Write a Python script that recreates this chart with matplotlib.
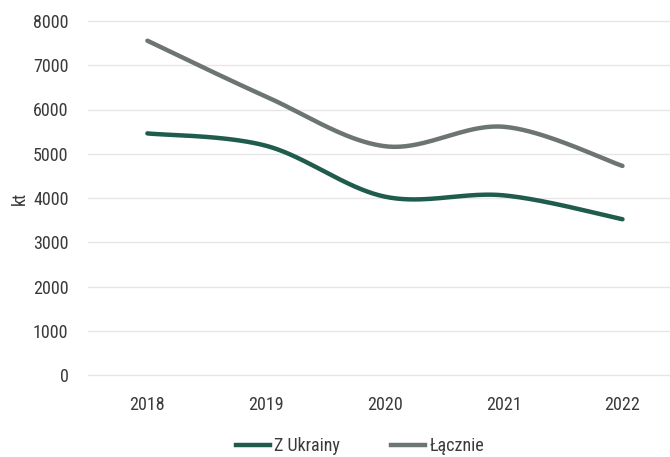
import numpy as np
import matplotlib
matplotlib.use("Agg")
import matplotlib.pyplot as plt
from matplotlib.lines import Line2D
from matplotlib import font_manager

# Prefer a narrow sans for the labels, whichever is available
available = {f.name for f in font_manager.fontManager.ttflist}
stretch = "normal"
family = "Roboto"
for cand in ["Roboto Condensed", "Liberation Sans Narrow", "Open Sans Condensed",
             "Noto Sans Condensed"]:
    if cand in available:
        family = cand
        break
else:
    cond_dejavu = [f for f in font_manager.fontManager.ttflist
                   if f.name == "DejaVu Sans" and f.stretch in ("condensed", 600, "semi-condensed")]
    if cond_dejavu:
        family = "DejaVu Sans"
        stretch = "condensed"
plt.rcParams['font.family'] = [family, 'DejaVu Sans']
plt.rcParams['font.stretch'] = stretch

years = ["2018", "2019", "2020", "2021", "2022"]
z_ukrainy = [5460, 5180, 4030, 4060, 3520]
lacznie = [7555, 6290, 5170, 5610, 4725]
y_ticks = [0, 1000, 2000, 3000, 4000, 5000, 6000, 7000, 8000]

GREEN = "#1f5c4c"
GREY = "#6c7573"
TEXT = "#3a3a3a"
FS = 13


def smooth(xs, ys, n=40):
    """Catmull-Rom style smoothed path through the points (cubic Bezier segments)."""
    xs = np.asarray(xs, float)
    ys = np.asarray(ys, float)
    px, py = [], []
    m = len(xs)
    for i in range(m - 1):
        p0 = (xs[max(i - 1, 0)], ys[max(i - 1, 0)])
        p1 = (xs[i], ys[i])
        p2 = (xs[i + 1], ys[i + 1])
        p3 = (xs[min(i + 2, m - 1)], ys[min(i + 2, m - 1)])
        c1 = (p1[0] + (p2[0] - p0[0]) / 6, p1[1] + (p2[1] - p0[1]) / 6)
        c2 = (p2[0] - (p3[0] - p1[0]) / 6, p2[1] - (p3[1] - p1[1]) / 6)
        t = np.linspace(0, 1, n, endpoint=(i == m - 2))
        b0 = (1 - t) ** 3
        b1 = 3 * (1 - t) ** 2 * t
        b2 = 3 * (1 - t) * t ** 2
        b3 = t ** 3
        px.append(b0 * p1[0] + b1 * c1[0] + b2 * c2[0] + b3 * p2[0])
        py.append(b0 * p1[1] + b1 * c1[1] + b2 * c2[1] + b3 * p2[1])
    return np.concatenate(px), np.concatenate(py)


fig = plt.figure(figsize=(6.70, 4.57), dpi=100)
ax = fig.add_axes([88 / 670, 82 / 457, 582 / 670, 354 / 457])

x = np.arange(len(years))
for vals, col in ((z_ukrainy, GREEN), (lacznie, GREY)):
    sx, sy = smooth(x, vals)
    ax.plot(sx, sy, color=col, lw=3.2, solid_capstyle="round", zorder=3)

ax.set_xlim(-0.5, 4.40)
ax.set_ylim(0, 8000)
ax.set_yticks(y_ticks)
ax.set_xticks(x)
ax.set_xticklabels(years)
ax.yaxis.grid(True, color="#e6e6e6", lw=1.0)
for gl in ax.get_ygridlines():
    gl.set_clip_on(False)
ax.set_axisbelow(True)
for s in ax.spines.values():
    s.set_visible(False)
ax.tick_params(axis="both", length=0, labelsize=FS, colors=TEXT)
ax.tick_params(axis="y", pad=14)
ax.tick_params(axis="x", pad=15)
ax.set_ylabel("kt", fontsize=FS, color=TEXT, labelpad=3)

handles = [Line2D([0], [0], color=GREEN, lw=3.2),
           Line2D([0], [0], color=GREY, lw=3.2)]
fig.legend(handles, ["Z Ukrainy", "Łącznie"], loc="center",
           bbox_to_anchor=(360 / 670, 11 / 457), ncol=2, frameon=False,
           fontsize=FS, labelcolor=TEXT, handlelength=1.9,
           handletextpad=0.25, columnspacing=2.8)

fig.savefig("out.png", dpi=100)
